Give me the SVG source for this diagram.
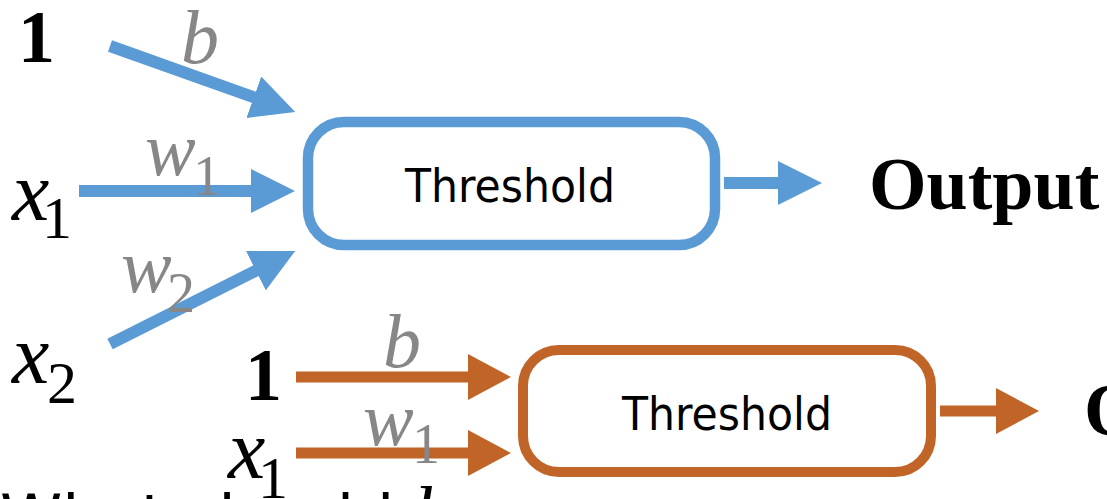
<svg xmlns="http://www.w3.org/2000/svg" width="1107" height="499" viewBox="0 0 1107 499">
<style>
.bold{font-family:"Liberation Serif","Times New Roman",serif;font-weight:bold;fill:#000}
.mi{font-family:"Liberation Serif","Times New Roman",serif;font-style:italic;fill:#000}
.sub{font-family:"Liberation Serif","Times New Roman",serif;fill:#000}
.gmi{font-family:"Liberation Serif","Times New Roman",serif;font-style:italic;fill:#878787}
.gsub{font-family:"Liberation Serif","Times New Roman",serif;fill:#878787}
.lbl{font-family:"DejaVu Sans","Verdana",sans-serif;font-size:47px;fill:#000}
.blue{stroke:#5b9bd5;fill:none}
.orange{stroke:#c06428;fill:none}
.sent{font-family:"DejaVu Sans","Verdana",sans-serif;font-size:63px;fill:#000}
</style>
<defs>
<marker id="hb" markerUnits="userSpaceOnUse" markerWidth="44" markerHeight="44" refX="2" refY="22" orient="auto">
<path d="M0,0 L44,22 L0,44 z" fill="#5b9bd5"/>
</marker>
<marker id="ho" markerUnits="userSpaceOnUse" markerWidth="44" markerHeight="46" refX="2" refY="23" orient="auto">
<path d="M0,0 L43,23 L0,46 z" fill="#c06428"/>
</marker>
</defs>
<rect width="1107" height="499" fill="#fff"/>

<g id="connectors">
<line class="blue" x1="110" y1="46" x2="255.7" y2="97.9" stroke-width="12" marker-end="url(#hb)"/>
<line class="blue" x1="79" y1="191" x2="253" y2="191" stroke-width="12" marker-end="url(#hb)"/>
<line class="blue" x1="110" y1="344" x2="257.7" y2="269.8" stroke-width="12" marker-end="url(#hb)"/>
<line class="blue" x1="724" y1="183" x2="780" y2="183" stroke-width="12" marker-end="url(#hb)"/>
<line class="orange" x1="296" y1="377" x2="470" y2="377" stroke-width="11" marker-end="url(#ho)"/>
<line class="orange" x1="296" y1="453" x2="470" y2="453" stroke-width="11" marker-end="url(#ho)"/>
<line class="orange" x1="940" y1="411" x2="998" y2="411" stroke-width="11" marker-end="url(#ho)"/>
</g>

<g id="labels">
<text class="gmi" x="181" y="63" font-size="76">b</text>
<text class="gmi" x="145" y="175" font-size="76">w</text>
<text class="gsub" x="193" y="195" font-size="56">1</text>
<text class="gmi" x="121" y="292" font-size="76">w</text>
<text class="gsub" x="167" y="312" font-size="56">2</text>
<text class="gmi" x="383" y="367" font-size="76">b</text>
<text class="gmi" x="363" y="445" font-size="76">w</text>
<text class="gsub" x="412" y="463" font-size="56">1</text>
</g>

<g id="in-one-top"><text class="bold" x="18" y="62" font-size="74">1</text></g>
<g id="in-x1-top"><text class="mi" x="12" y="220" font-size="84">x</text><text class="sub" x="42" y="238" font-size="60">1</text></g>
<g id="in-x2-top"><text class="mi" x="12" y="383" font-size="84">x</text><text class="sub" x="47" y="403" font-size="60">2</text></g>

<g id="threshold-top">
<rect class="blue" x="308" y="122" width="407" height="123" rx="36" stroke-width="10.5"/>
<text class="lbl" x="510" y="202" text-anchor="middle" textLength="210" lengthAdjust="spacingAndGlyphs">Threshold</text>
</g>
<g id="output-top"><text class="bold" x="869" y="209" font-size="74">Output</text></g>

<g id="in-one-bottom"><text class="bold" x="245" y="400" font-size="74">1</text></g>
<g id="in-x1-bottom"><text class="mi" x="228" y="478" font-size="84">x</text><text class="sub" x="258" y="498" font-size="60">1</text></g>

<g id="threshold-bottom">
<rect class="orange" x="523" y="350" width="408" height="122" rx="36" stroke-width="10"/>
<text class="lbl" x="727" y="430" text-anchor="middle" textLength="210" lengthAdjust="spacingAndGlyphs">Threshold</text>
</g>
<g id="output-bottom"><text class="bold" x="1084" y="435" font-size="74">Output</text></g>

<g id="sentence"><text class="sent" x="0" y="539">What should <tspan class="mi" font-size="76">b</tspan></text></g>
</svg>
